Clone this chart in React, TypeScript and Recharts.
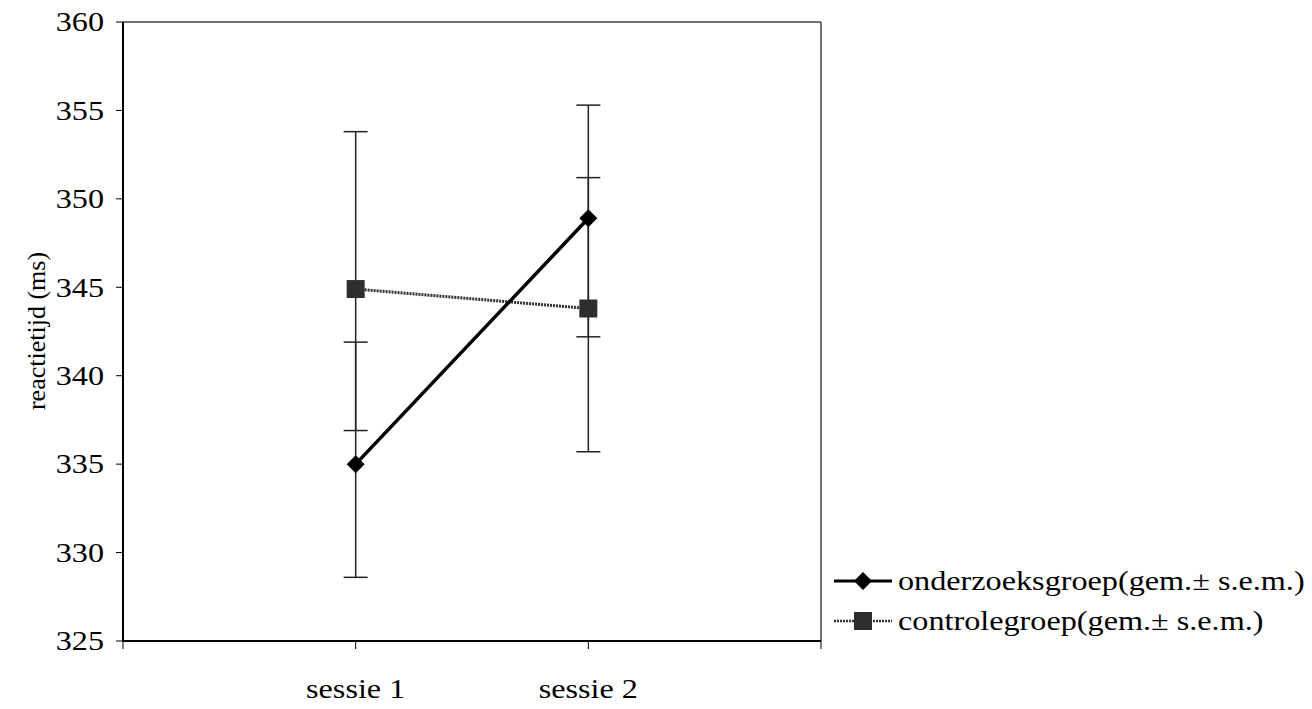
import { LineChart, Line, XAxis, YAxis, ErrorBar, ReferenceLine, Legend } from "recharts"

// sessions on a 0..3 axis, points sit at 1 and 2
const sessions = ["sessie 1", "sessie 2"]
const sessionPos = [1, 2]
const xTicks = [0, 1, 2, 3]
const yTicks = [325, 330, 335, 340, 345, 350, 355, 360]

// means with [minus, plus] s.e.m.
const onderzoeksMean = [335.0, 348.9]
const onderzoeksErr = [[6.4, 6.9], [6.7, 6.4]]
const controleMean = [344.9, 343.8]
const controleErr = [[8.0, 8.9], [8.1, 7.4]]

const legendItems = [
  { label: "onderzoeksgroep(gem.\u00b1 s.e.m.)", kind: "diamond" },
  { label: "controlegroep(gem.\u00b1 s.e.m.)", kind: "square" },
]

const data = sessionPos.map((x, i) => ({
  x,
  name: sessions[i],
  onderzoek: onderzoeksMean[i],
  onderzoekErr: onderzoeksErr[i],
  controle: controleMean[i],
  controleErr: controleErr[i],
}))

const FONT = "'Liberation Serif', 'Times New Roman', serif"
const STRETCH = 1.15
const FS = 28

const Diamond = ({ cx, cy }: any) => (
  <path d={`M${cx},${cy - 9} L${cx + 9},${cy} L${cx},${cy + 9} L${cx - 9},${cy} Z`} fill="#000" />
)

const Square = ({ cx, cy }: any) => (
  <rect x={cx - 9} y={cy - 9} width={18} height={18} fill="#2e2e2e" />
)

const YTick = ({ x, y, payload }: any) => (
  <g transform={`translate(${x},${y})`}>
    <text transform={`scale(${STRETCH},1)`} textAnchor="end" dominantBaseline="central" fontSize={FS} fontFamily={FONT} fill="#000">
      {payload.value}
    </text>
  </g>
)

const XTick = ({ x, y, payload }: any) => {
  const idx = sessionPos.indexOf(payload.value)
  if (idx < 0) return null
  return (
    <g transform={`translate(${x},${y})`}>
      <text transform={`scale(${STRETCH},1)`} textAnchor="middle" dominantBaseline="central" fontSize={FS} fontFamily={FONT} fill="#000">
        {sessions[idx]}
      </text>
    </g>
  )
}

const renderLegend = () => (
  <div style={{ fontFamily: FONT }}>
    {legendItems.map((item) => (
      <div key={item.label} style={{ display: "flex", alignItems: "center", height: 40 }}>
        <svg width={62} height={20}>
          {item.kind === "diamond" ? (
            <>
              <line x1={2} y1={10} x2={60} y2={10} stroke="#000" strokeWidth={3} />
              <path d="M31,1 L40,10 L31,19 L22,10 Z" fill="#000" />
            </>
          ) : (
            <>
              <line x1={2} y1={10} x2={60} y2={10} stroke="#333" strokeWidth={2.5} strokeDasharray="2 1" />
              <rect x={22} y={1} width={18} height={18} fill="#2e2e2e" />
            </>
          )}
        </svg>
        <span
          style={{
            fontSize: FS,
            marginLeft: 4,
            whiteSpace: "nowrap",
            display: "inline-block",
            transform: `scaleX(${STRETCH})`,
            transformOrigin: "left center",
          }}
        >
          {item.label}
        </span>
      </div>
    ))}
  </div>
)

export default function App() {
  return (
    <div style={{ position: "absolute", left: 0, top: 0, width: 1312, height: 709, background: "#fff" }}>
      <LineChart width={1312} height={709} data={data} margin={{ top: 22, right: 491, bottom: 8, left: 5 }}>
        <XAxis
          dataKey="x"
          type="number"
          domain={[0, 3]}
          ticks={xTicks}
          interval={0}
          tick={<XTick />}
          tickSize={8}
          tickMargin={40}
          height={60}
          axisLine={{ stroke: "#000", strokeWidth: 2 }}
          tickLine={{ stroke: "#000", strokeWidth: 1 }}
        />
        <YAxis
          type="number"
          domain={[325, 360]}
          ticks={yTicks}
          interval={0}
          width={118}
          tick={<YTick />}
          tickSize={7}
          tickMargin={12}
          axisLine={{ stroke: "#000", strokeWidth: 2 }}
          tickLine={{ stroke: "#000", strokeWidth: 1 }}
          label={{
            content: () => (
              <text
                transform="translate(36,331) rotate(-90)"
                textAnchor="middle"
                dominantBaseline="central"
                fontSize={26}
                fontFamily={FONT}
                fill="#000"
              >
                reactietijd (ms)
              </text>
            ),
          }}
        />
        <ReferenceLine y={360} stroke="#444" strokeWidth={1.5} />
        <ReferenceLine x={3} stroke="#444" strokeWidth={1.5} />
        <Line
          dataKey="controle"
          stroke="#333"
          strokeWidth={3}
          strokeDasharray="2 1"
          dot={<Square />}
          activeDot={false}
          isAnimationActive={false}
        >
          <ErrorBar dataKey="controleErr" width={12} stroke="#222" strokeWidth={1.5} direction="y" isAnimationActive={false} />
        </Line>
        <Line
          dataKey="onderzoek"
          stroke="#000"
          strokeWidth={3.5}
          dot={<Diamond />}
          activeDot={false}
          isAnimationActive={false}
        >
          <ErrorBar dataKey="onderzoekErr" width={12} stroke="#222" strokeWidth={1.5} direction="y" isAnimationActive={false} />
        </Line>
        <Legend
          layout="vertical"
          align="center"
          verticalAlign="middle"
          content={renderLegend}
          wrapperStyle={{ left: 832, top: 561, width: 480 }}
        />
      </LineChart>
    </div>
  )
}
